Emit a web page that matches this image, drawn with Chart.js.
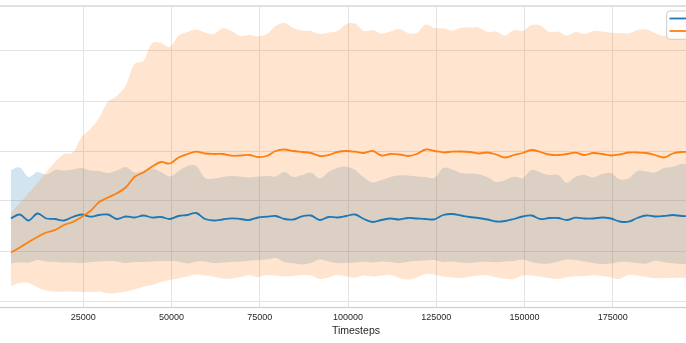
<!DOCTYPE html>
<html><head><meta charset="utf-8">
<script src="https://cdn.jsdelivr.net/npm/chart.js@4.4.0/dist/chart.umd.min.js"></script>
<style>
html,body{margin:0;padding:0;overflow:hidden;background:#fff;width:686px;height:343px;}
#wrap{position:absolute;left:-100px;top:0;width:850px;height:343px;}
</style></head><body>
<div id="wrap"><canvas id="c" width="850" height="343" style="width:850px;height:343px"></canvas></div>
<script>
const timesteps = [4500,7000,9500,12000,14500,17000,19500,22000,24500,27000,
29500,32000,34500,37000,39500,42000,44500,47000,49500,52000,
54500,57000,59500,62000,64500,67000,69500,72000,74500,77000,
79500,82000,84500,87000,89500,92000,94500,97000,99500,102000,
104500,107000,109500,112000,114500,117000,119500,122000,124500,127000,
129500,132000,134500,137000,139500,142000,144500,147000,149500,152000,
154500,157000,159500,162000,164500,167000,169500,172000,174500,177000,
179500,182000,184500,187000,189500,192000,194500,197000,199500];
const seriesNames = ['PPO', 'SAC'];
const xTickValues = [0, 25000, 50000, 75000, 100000, 125000, 150000, 175000, 200000];
const yTickValues = [0, 50, 100, 150, 200, 250];
const xAxisTitle = 'Timesteps';

const blueMean = [82.7,86.5,80.5,87.5,82.5,82,80.5,84,86.5,84.3,
86,86.5,82,84.5,83.5,85.5,83.5,84,82,85,
86,88,82,80.5,81.5,82.7,82,81,83.5,84.3,
85,82,81.5,84.7,85.5,81,84,83.5,85,86.5,
82,79,81,82.5,81.5,83,82.5,82,81.7,86,
87,85.5,84,83,81.5,79.5,80,82,84.5,85.5,
82,83,83,81,83.3,82.5,82.5,83.5,82.5,79.5,
79.3,83,85.5,84.5,85,86,85,85,85];
const blueHigh = [131,133.5,124,129,126.5,131,130.5,131.5,133,130.5,
130,128,130.5,134,128.5,130,132.5,129,124.5,130,
135,135,123,122.5,124,125,124.5,123.5,124.5,125,
124.5,129,124,126,128.5,122.5,129,133,134.3,131,
123.5,118.5,121,124,125.7,125.5,124.5,124,123,133,
131.5,128,127.4,126.8,124,119,121,124.3,123,131,
128.5,126,126,118.3,124.3,126,123.5,127,128,121.5,
122.7,130,129.5,128.5,133,134,137,137,137];
const blueLow = [37.7,38.7,38.3,41,39.5,39,38.5,38.5,38,39,
39.5,40,39.5,38,39,39,39.5,40,40,39.5,
37.5,39.5,39.5,38,38.5,39,39.5,40.3,41,41.5,
43,39,37.7,36.5,38,41.5,39.5,38,38,38.5,
39.2,38.5,39.5,39,38,39.3,40,40.5,41,39,
39.5,38.5,38,39,39.2,38.8,39.5,40,41.5,39,
37.5,37.5,39.5,41.5,41,39.5,38,37,37.5,39,
39,38,37.5,40.3,39,37.7,37,37,37];
const orangeMean = [48.5,53.5,59,64,68.5,71,76,79,84,90,
99,103.5,107.7,113.5,124,128.5,134.5,139,137.5,143.5,
147,149.3,147.5,147,147,145.3,145.5,146,144,145,
150,151.5,150,149,148,145,146,149,150,149.3,
148,150,145.5,147,146.5,145,147,151.5,150,148.7,
149.3,149.5,149,147.5,148.5,146.5,143.5,146,148,151,
149,146.5,146,147,148.3,146,148,147,145.5,146.5,
148.5,148.5,148,146,143.5,147.5,149,149,149];
const orangeHigh = [88,98,108,118,129,139,147,148.5,164,172,
183.5,199.5,205,215.5,237,240,258,258,254,265.5,
269,271.5,268.5,267,272.7,270,265,266,264.5,267,
275,278,273,270.5,270,267,268.5,270,277,277.5,
270,271,267.5,269.5,272,268,268,276.5,273,272.7,
270.5,273,273.5,273.5,269,269.5,265.5,271,270,276,
275.5,269,269.5,265.5,269,267,270,269.5,268.3,268,
267.7,271,271.5,268,265,268,269,269,269];
const orangeLow = [15,18,18,13.5,10.5,9.3,9.3,9.5,9,9,
9.5,7.7,8,9.5,11.5,14.3,16,19,21,22.5,
24.5,26.5,25.5,24.3,22.5,22.5,24,25.7,24,26,
25.5,24.5,25,26,25.5,22,23.5,26,24.5,23.5,
25.5,24.5,25.5,26,23,21.5,23.5,27,26.5,24.5,
23.5,23,24.3,25.5,25.8,23.5,22.3,22,25.5,25.5,
24.3,23,22,23.7,24.7,25,25.8,25,23.5,22,
26,25.5,24,22.7,23,23.3,23.3,23.3,23.3];

const FONT = "'Liberation Sans', Arial, Helvetica, sans-serif";
const BLUE = '#1f77b4', ORANGE = '#ff7f0e';
const TEXT = '#262626';
const pts = arr => arr.map((v, i) => ({x: timesteps[i], y: v}));
const T = 0.35;

const spines = {
  id: 'spines',
  afterDatasetsDraw(chart) {
    const {ctx, chartArea: a} = chart;
    ctx.save();
    ctx.strokeStyle = '#d0d0d0';
    ctx.lineWidth = 1.25;
    ctx.strokeRect(a.left, a.top, a.right - a.left, a.bottom - a.top);
    ctx.restore();
  }
};
const innerLegend = {
  id: 'innerLegend',
  afterDraw(chart) {
    const {ctx, chartArea: a} = chart;
    const items = [chart.data.datasets[0], chart.data.datasets[1]];
    ctx.save();
    ctx.font = '10px ' + FONT;
    const tw = Math.max(...items.map(d => ctx.measureText(d.label).width));
    const x0 = a.right - 68.7, y0 = a.top + 5, h = 28.3;
    const w = 2.8 + 20 + 8 + tw + 5;
    ctx.beginPath();
    ctx.roundRect(x0, y0, w, h, 3);
    ctx.fillStyle = 'rgba(255,255,255,0.8)';
    ctx.fill();
    ctx.strokeStyle = '#cccccc';
    ctx.lineWidth = 1;
    ctx.stroke();
    const ys = [y0 + 7.5, y0 + 20];
    items.forEach((d, i) => {
      ctx.beginPath();
      ctx.strokeStyle = d.borderColor;
      ctx.lineWidth = 1.8;
      ctx.moveTo(x0 + 2.8, ys[i]);
      ctx.lineTo(x0 + 22.8, ys[i]);
      ctx.stroke();
      ctx.fillStyle = TEXT;
      ctx.textBaseline = 'middle';
      ctx.fillText(d.label, x0 + 30.8, ys[i]);
    });
    ctx.restore();
  }
};

new Chart(document.getElementById('c'), {
  type: 'line',
  data: {
    datasets: [
      {label: seriesNames[0], data: pts(blueMean), borderColor: BLUE, borderWidth: 1.8, pointRadius: 0, tension: T, fill: false, order: 1},
      {label: seriesNames[1], data: pts(orangeMean), borderColor: ORANGE, borderWidth: 1.8, pointRadius: 0, tension: T, fill: false, order: 0},
      {label: seriesNames[1] + ' low', data: pts(orangeLow), borderWidth: 0, borderColor: 'rgba(0,0,0,0)', pointRadius: 0, tension: T, fill: false, order: 2},
      {label: seriesNames[1] + ' high', data: pts(orangeHigh), borderWidth: 0, borderColor: 'rgba(0,0,0,0)', backgroundColor: 'rgba(255,127,14,0.2)', pointRadius: 0, tension: T, fill: {target: 2}, order: 2},
      {label: seriesNames[0] + ' low', data: pts(blueLow), borderWidth: 0, borderColor: 'rgba(0,0,0,0)', pointRadius: 0, tension: T, fill: false, order: 3},
      {label: seriesNames[0] + ' high', data: pts(blueHigh), borderWidth: 0, borderColor: 'rgba(0,0,0,0)', backgroundColor: 'rgba(31,119,180,0.2)', pointRadius: 0, tension: T, fill: {target: 4}, order: 3}
    ]
  },
  options: {
    responsive: false,
    animation: false,
    devicePixelRatio: 1,
    layout: {padding: {left: 0, right: 14.6, top: 6, bottom: 0}},
    plugins: {legend: {display: false}, tooltip: {enabled: false}, title: {display: false}},
    scales: {
      x: {
        type: 'linear', min: -5275, max: 209775,
        afterBuildTicks: s => { s.ticks = xTickValues.map(v => ({value: v})); },
        ticks: {color: TEXT, font: {family: FONT, size: 9}, padding: 5, maxRotation: 0, minRotation: 0, autoSkip: false, callback: v => String(v)},
        grid: {color: '#e3e3e3', lineWidth: 1, drawTicks: false},
        border: {display: false},
        title: {display: true, text: xAxisTitle, color: TEXT, font: {family: FONT, size: 10.5}, padding: {top: 0, bottom: 6}},
        afterFit: s => { s.height = 35.5; s.paddingLeft = 0; s.paddingRight = 0; }
      },
      y: {
        type: 'linear', min: -6.5, max: 295,
        afterBuildTicks: s => { s.ticks = yTickValues.map(v => ({value: v})); },
        ticks: {color: TEXT, font: {family: FONT, size: 9}, padding: 5},
        grid: {color: '#e3e3e3', lineWidth: 1, drawTicks: false},
        border: {display: false},
        afterFit: s => { s.width = 76.5; s.paddingTop = 0; s.paddingBottom = 0; }
      }
    }
  },
  plugins: [spines, innerLegend]
});
</script>
</body></html>
